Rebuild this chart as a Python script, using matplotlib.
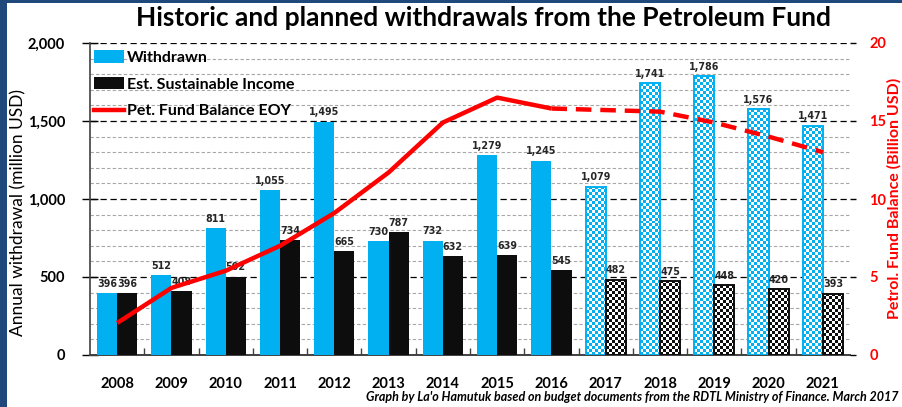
import numpy as np
import matplotlib
matplotlib.use("Agg")
import matplotlib.pyplot as plt
from matplotlib.patches import Rectangle, Patch
from matplotlib.lines import Line2D
from matplotlib.ticker import MultipleLocator, FuncFormatter

years = ["2008", "2009", "2010", "2011", "2012", "2013", "2014", "2015",
         "2016", "2017", "2018", "2019", "2020", "2021"]
withdrawn = [396, 512, 811, 1055, 1495, 730, 732, 1279, 1245, 1079, 1741, 1786, 1576, 1471]
sustainable = [396, 408, 502, 734, 665, 787, 632, 639, 545, 482, 475, 448, 420, 393]
balance = [2.05, 4.3, 5.4, 7.0, 9.1, 11.7, 14.9, 16.5, 15.8, 15.7, 15.6, 14.9, 14.0, 13.0]
first_planned = 9  # 2017 onward planned
line_split = 8     # dashed from 2016

BLUE = "#00B0F0"
BLACK = "#0D0D0D"
RED = "#FF0000"

plt.rcParams['font.family'] = ['Lato', 'DejaVu Sans']

fig = plt.figure(figsize=(9.03, 4.07), dpi=100)
fig.patch.set_facecolor("white")
ax = fig.add_axes([90/903, 1-355/407, 760/903, 312/407])
ax2 = ax.twinx()

x = np.arange(len(years))
bw = 0.37

def checker(ax, patch, color, cell=3.0):
    x0, y0 = patch.get_x(), patch.get_y()
    w, h = patch.get_width(), patch.get_height()
    p0 = ax.transData.transform((x0, y0))
    p1 = ax.transData.transform((x0 + w, y0 + h))
    nc = max(1, int(round((p1[0]-p0[0]) / cell)))
    nr = max(1, int(round((p1[1]-p0[1]) / cell)))
    c = np.array(matplotlib.colors.to_rgba(color))
    wht = np.array([1, 1, 1, 1.0])
    ii, jj = np.indices((nr, nc))
    mask = ((ii + jj) % 2 == 0)
    arr = np.where(mask[..., None], c, wht)
    im = ax.imshow(arr, extent=(x0, x0 + w, y0, y0 + h), origin='lower',
                   interpolation='nearest', aspect='auto', zorder=2.5)
    im.set_clip_path(patch)

ax.set_xlim(-0.5, len(years) - 0.5)
ax.set_ylim(0, 2000)

for i in range(len(years)):
    planned = i >= first_planned
    for val, off, col in ((withdrawn[i], -bw/2, BLUE), (sustainable[i], bw/2, BLACK)):
        if planned:
            b = ax.bar(x[i] + off, val, bw, facecolor='none', edgecolor=col,
                       linewidth=1.4, zorder=3)[0]
            checker(ax, b, col)
        else:
            ax.bar(x[i] + off, val, bw, color=col, zorder=3)
        ax.text(x[i] + off, val + 28, f"{val:,}", ha='center', va='bottom',
                fontsize=7.7, color='#262626', family='DejaVu Sans',
                fontstretch='condensed', fontweight='bold', zorder=4)

ax.set_xlim(-0.5, len(years) - 0.5)
ax.set_ylim(0, 2000)

# grid
ax.yaxis.set_major_locator(MultipleLocator(500))
ax.yaxis.set_minor_locator(MultipleLocator(100))
ax.grid(which='minor', axis='y', color='#A6A6A6', linestyle=(0, (3, 2)), linewidth=0.8, zorder=0)
ax.grid(which='major', axis='y', color='#000000', linestyle=(0, (5, 3)), linewidth=0.9, zorder=0)
ax.set_axisbelow(True)
ax.yaxis.set_major_formatter(FuncFormatter(lambda v, p: f"{int(v):,}"))
ax.tick_params(axis='y', which='major', direction='inout', length=12, width=1,
               labelsize=10.5, pad=12, colors='black')
ax.tick_params(axis='y', which='minor', length=0)
for lb in ax.get_yticklabels():
    lb.set_fontweight('bold')

ax.set_xticks(x)
ax.set_xticklabels(years, fontsize=10.5, fontweight='bold')
ax.set_xticks(x[:-1] + 0.5, minor=True)
ax.tick_params(axis='x', which='major', length=0, pad=16)
ax.tick_params(axis='x', which='minor', direction='in', length=5, width=1, color='#404040')

for s in ['top', 'right']:
    ax.spines[s].set_visible(False)
for s in ['top', 'right', 'left', 'bottom']:
    ax2.spines[s].set_visible(False)
ax.spines['left'].set_color('#404040')
ax.spines['bottom'].set_color('#404040')
ax.spines['left'].set_linewidth(1.2)
ax.spines['bottom'].set_linewidth(1.4)

# line
ax2.set_ylim(0, 20)
ax2.yaxis.set_major_locator(MultipleLocator(5))
ax2.plot(x[:line_split + 1], balance[:line_split + 1], color=RED, linewidth=3.2,
         solid_capstyle='butt', zorder=5)
ax2.plot(x[line_split:], balance[line_split:], color=RED, linewidth=3.2,
         linestyle=(0, (3.5, 2)), zorder=5)
ax2.tick_params(axis='y', direction='out', length=4, width=1, color='black',
                labelsize=10.5, labelcolor=RED, pad=10)
for lb in ax2.get_yticklabels():
    lb.set_fontweight('bold')
ax2.set_xlim(-0.5, len(years) - 0.5)

# legend
handles = [Patch(facecolor=BLUE, edgecolor='none'),
           Patch(facecolor=BLACK, edgecolor='none'),
           Line2D([0], [0], color=RED, linewidth=3.2)]
labels = ["Withdrawn", "Est. Sustainable Income", "Pet. Fund Balance EOY"]
leg = ax2.legend(handles, labels, loc='upper left', bbox_to_anchor=(-0.01, 1.012),
                 frameon=False, prop={'weight': 'bold', 'size': 11.5},
                 handlelength=1.9, handleheight=0.8, handletextpad=0.2,
                 labelspacing=0.75, borderaxespad=0.3)

# texts
fig.text(484/903, 1-18/407, "Historic and planned withdrawals from the Petroleum Fund",
         ha='center', va='center', fontsize=19, fontweight='bold', color='black')
fig.text(18/903, 1-212/407, "Annual withdrawal (million USD)", rotation=90,
         ha='center', va='center', fontsize=12.5, color='black')
fig.text(894/903, 1-198/407, "Petrol. Fund Balance (Billion USD)", rotation=90,
         ha='center', va='center', fontsize=11.5, fontweight='bold', color=RED)
fig.text(899/903, 1-397/407,
         "Graph by La'o Hamutuk based on budget documents from the RDTL Ministry of Finance. March 2017",
         ha='right', va='center', fontsize=9, fontweight='bold', style='italic', color='black')

# border
fig.patches.append(Rectangle((0, 0), 7/903, 1, transform=fig.transFigure,
                             facecolor='#1F497D', edgecolor='none', zorder=10))
fig.patches.append(Rectangle((0, 1-3/407), 1, 3/407, transform=fig.transFigure,
                             facecolor='#1F497D', edgecolor='none', zorder=10))

fig.savefig("out.png", dpi=100)
